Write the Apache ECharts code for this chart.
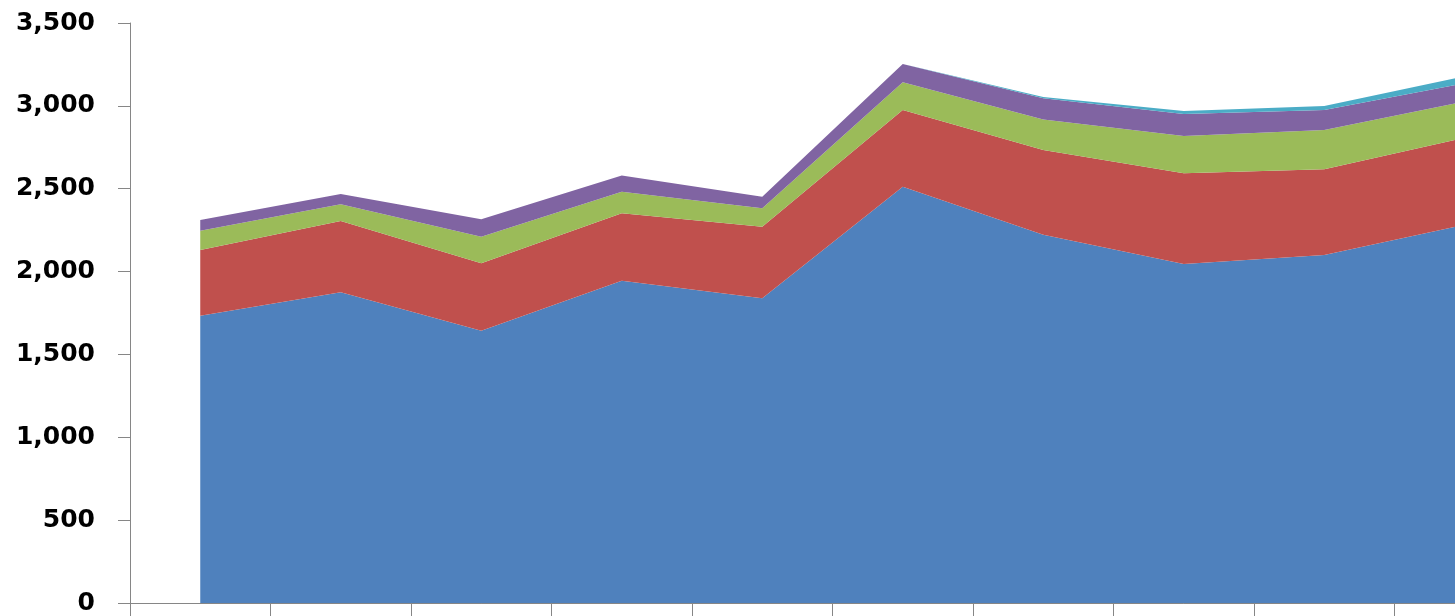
<!DOCTYPE html>
<html>
<head>
<meta charset="utf-8">
<script src="https://cdn.jsdelivr.net/npm/echarts@6/dist/echarts.min.js"></script>
<style>
html,body{margin:0;padding:0;background:#fff;overflow:hidden;width:1455px;height:616px;}
#c{width:1535px;height:616px;}
</style>
</head>
<body>
<div id="c"></div>
<script>
const categories = ['1','2','3','4','5','6','7','8','9','10'];
const seriesBlue   = [1734, 1875, 1643, 1945, 1839, 2512, 2222, 2045, 2100, 2283];
const seriesRed    = [396, 430, 407, 407, 432, 463, 512, 548, 517, 524];
const seriesGreen  = [117, 101, 160, 130, 111, 167, 184, 225, 237, 220];
const seriesPurple = [64, 62, 105, 97, 70, 111, 128, 133, 121, 110];
const seriesCyan   = [0, 0, 0, 0, 0, 0, 8, 18, 24, 41];
const yTicks = { min: 0, max: 3500, interval: 500 };

const colors = ['#4F81BD', '#C0504D', '#9BBB59', '#8064A2', '#4BACC6'];
const datasets = [seriesBlue, seriesRed, seriesGreen, seriesPurple, seriesCyan];

const chart = echarts.init(document.getElementById('c'));
chart.setOption({
  animation: false,
  backgroundColor: '#ffffff',
  grid: { left: 130, right: 0, top: 23, bottom: 13, containLabel: false },
  xAxis: {
    type: 'category',
    data: categories,
    boundaryGap: true,
    axisLine: { show: true, lineStyle: { color: '#868686', width: 1 } },
    axisTick: { show: true, length: 14, lineStyle: { color: '#868686' } },
    axisLabel: { show: false },
    splitLine: { show: false }
  },
  yAxis: {
    type: 'value',
    min: yTicks.min, max: yTicks.max, interval: yTicks.interval,
    axisLine: { show: true, lineStyle: { color: '#868686', width: 1 } },
    axisTick: { show: true, length: 12, lineStyle: { color: '#868686' } },
    splitLine: { show: false },
    axisLabel: {
      margin: 35,
      color: '#000000',
      fontFamily: 'DejaVu Sans',
      fontWeight: 'bold',
      fontSize: 25,
      formatter: v => v.toLocaleString('en-US')
    }
  },
  series: datasets.map((d, i) => ({
    type: 'line',
    stack: 'total',
    data: d,
    symbol: 'none',
    lineStyle: { width: 0 },
    areaStyle: { color: colors[i], opacity: 1 },
    itemStyle: { color: colors[i] }
  }))
});
</script>
</body>
</html>
